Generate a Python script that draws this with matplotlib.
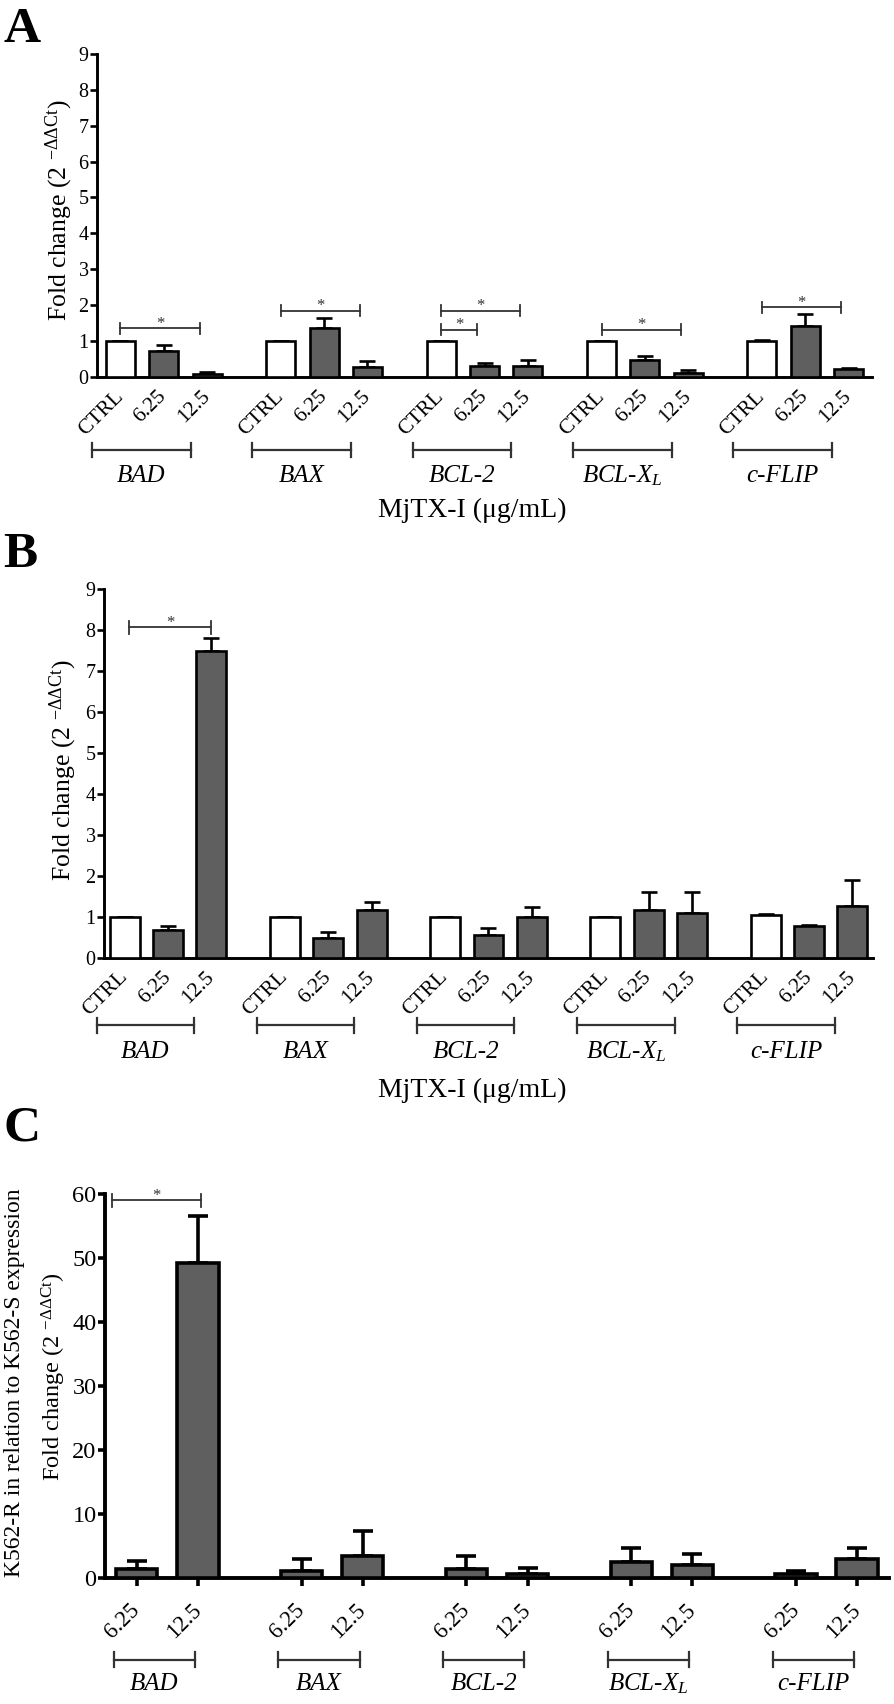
import matplotlib.pyplot as plt
import numpy as np

plt.rcParams['font.family'] = ['Liberation Serif', 'DejaVu Serif']
plt.rcParams['mathtext.default'] = 'regular'

# data
genes = ['BAD', 'BAX', 'BCL-2', 'BCL-X$_L$', 'c-FLIP']
doses_ab = ['CTRL', '6.25', '12.5']
doses_c = ['6.25', '12.5']

# panel A: fold change per gene (CTRL, 6.25, 12.5)
a_mean = [[1.0, 0.72, 0.08], [1.0, 1.35, 0.27], [1.0, 0.31, 0.31], [1.0, 0.48, 0.11], [1.0, 1.43, 0.22]]
a_err = [[0, 0.17, 0.05], [0, 0.28, 0.17], [0, 0.09, 0.16], [0, 0.11, 0.08], [0.04, 0.32, 0.04]]
# significance: (gene, from bar, to bar, height)
a_sig = [(0, 0, 2, 1.35), (1, 0, 2, 1.85), (2, 0, 1, 1.31), (2, 0, 2, 1.85), (3, 0, 2, 1.31), (4, 0, 2, 1.94)]

# panel B
b_mean = [[1.0, 0.68, 7.49], [1.0, 0.49, 1.16], [1.0, 0.55, 0.98], [1.0, 1.16, 1.08], [1.03, 0.77, 1.25]]
b_err = [[0, 0.09, 0.30], [0, 0.13, 0.19], [0, 0.18, 0.26], [0, 0.44, 0.52], [0.03, 0.03, 0.64]]
b_sig = [(0, 0, 2, 8.06)]

# panel C: K562-R vs K562-S (6.25, 12.5)
c_mean = [[1.5, 49.2], [1.15, 3.4], [1.4, 0.68], [2.5, 2.1], [0.63, 3.0]]
c_err = [[1.2, 7.3], [1.85, 4.0], [2.0, 0.9], [2.3, 1.75], [0.5, 1.8]]
c_sig = [(0, 0, 1, 59.0)]

BAR = '#5f5f5f'
LINE = '#333333'


def panel(ax, means, errs, labels, fills, pitch, width, lw, capsize, ymax, ystep,
          margin, sig, sig_pad, gb, ytick_fs, xtick_fs, xpad, xtick_len):
    n = len(labels)
    pos = []
    for g in range(len(genes)):
        x = g * pitch + np.arange(n)
        ax.bar(x, means[g], width, color=fills, edgecolor='black', linewidth=lw, zorder=3)
        ax.errorbar(x, means[g], yerr=[[0] * n, errs[g]], fmt='none', ecolor='black',
                    elinewidth=lw, capsize=capsize, capthick=lw, zorder=2)
        pos.append(x)
    ax.set_xlim(pos[0][0] - margin, pos[-1][-1] + margin)
    ax.set_ylim(0, ymax)
    ax.set_yticks(np.arange(0, ymax + 0.1, ystep))
    ax.set_xticks(np.concatenate(pos))
    ax.set_xticklabels(labels * len(genes), rotation=45, ha='right', va='center',
                       rotation_mode='anchor', fontsize=xtick_fs)
    ax.tick_params(axis='y', labelsize=ytick_fs, length=5, width=lw, pad=1)
    ax.tick_params(axis='x', length=xtick_len, width=lw, pad=xpad)
    for s in ('top', 'right'):
        ax.spines[s].set_visible(False)
    for s in ('left', 'bottom'):
        ax.spines[s].set_linewidth(lw + 0.2)

    # significance brackets
    dy = 0.017 * ymax
    for g, i, j, y in sig:
        x0 = pos[g][i] + sig_pad[0]
        x1 = pos[g][j] + sig_pad[1]
        ax.plot([x0, x1], [y, y], color=LINE, lw=1.3, clip_on=False, zorder=4)
        for xe in (x0, x1):
            ax.plot([xe, xe], [y - dy, y + dy], color=LINE, lw=1.3, clip_on=False, zorder=4)
        ax.text((x0 + x1) / 2, y + 0.1 * dy, '*', ha='center', va='baseline',
                fontsize=12, color=LINE, clip_on=False)

    # gene brackets under the tick labels
    start, length, yb, yt, th = gb
    tr = ax.get_xaxis_transform()
    for g in range(len(genes)):
        x0 = pos[g][0] + start
        x1 = x0 + length
        ax.plot([x0, x1], [yb, yb], transform=tr, color=LINE, lw=1.6, clip_on=False)
        for xe in (x0, x1):
            ax.plot([xe, xe], [yb - th, yb + th], transform=tr, color=LINE, lw=1.6, clip_on=False)
        ax.text((x0 + x1) / 2, yt, genes[g], transform=tr, ha='center', va='center',
                style='italic', fontsize=18)


fig = plt.figure(figsize=(8.94, 17.04), dpi=100)

axA = fig.add_axes([0.1085, 0.7788, 0.8669, 0.1896])
panel(axA, a_mean, a_err, doses_ab, ['white', BAR, BAR], 3.7, 0.67, 1.9, 5.5, 9, 1,
      0.54, a_sig, (0.0, -0.17), (-0.66, 2.28, -0.226, -0.307, 0.023), 14.5, 15.5, 12, 0)

axB = fig.add_axes([0.1163, 0.4380, 0.8602, 0.2164])
panel(axB, b_mean, b_err, doses_ab, ['white', BAR, BAR], 3.7, 0.69, 1.9, 5.5, 9, 1,
      0.48, b_sig, (0.1, 0.0), (-0.65, 2.25, -0.184, -0.255, 0.02), 14.5, 15.5, 12, 0)

axC = fig.add_axes([0.1174, 0.0738, 0.8770, 0.2255])
panel(axC, c_mean, c_err, doses_c, [BAR, BAR], 2.7, 0.68, 2.6, 7.5, 60, 10,
      0.52, c_sig, (-0.4, 0.06), (-0.38, 1.33, -0.2126, -0.274, 0.0195), 17.5, 16.5, 15, 6)

ylab = 'Fold change (2 $^{-ΔΔCt}$)'
fig.text(0.066, 0.8768, ylab, rotation=90, ha='center', va='center', fontsize=18.5)
fig.text(0.0706, 0.548, ylab, rotation=90, ha='center', va='center', fontsize=18.5)
fig.text(0.0605, 0.1919, ylab, rotation=90, ha='center', va='center', fontsize=17.5)
fig.text(0.0157, 0.1884, 'K562-R in relation to K562-S expression', rotation=90,
         ha='center', va='center', fontsize=17)

fig.text(0.528, 0.7007, 'MjTX-I (μg/mL)', ha='center', va='center', fontsize=20)
fig.text(0.528, 0.3603, 'MjTX-I (μg/mL)', ha='center', va='center', fontsize=20)

for letter, y in (('A', 0.9754), ('B', 0.6673), ('C', 0.3304)):
    fig.text(0.004, y, letter, fontsize=37, fontweight='bold', va='baseline')

fig.savefig('out.png', dpi=100)
